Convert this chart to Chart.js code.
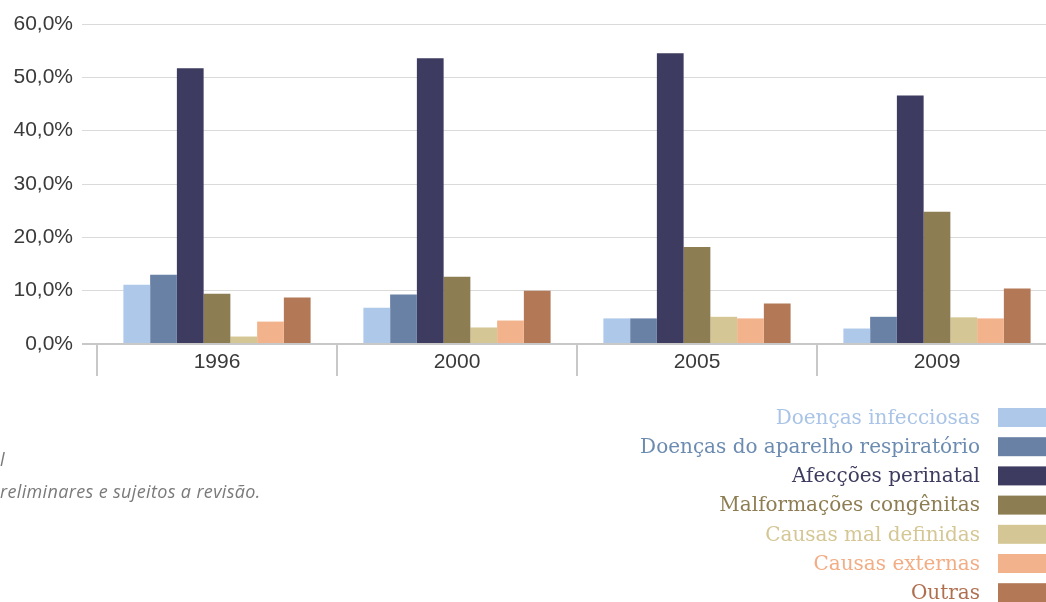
<!DOCTYPE html>
<html>
<head>
<meta charset="utf-8">
<script src="https://cdn.jsdelivr.net/npm/chart.js@4.4.1/dist/chart.umd.min.js"></script>
<style>
html,body{margin:0;padding:0;background:#fff;overflow:hidden;width:1046px;height:602px;}
#wrap{position:absolute;left:0;top:0;width:1060px;height:602px;}
</style>
</head>
<body>
<div id="wrap"><canvas id="c" width="1060" height="602"></canvas></div>
<script>
const categories = ['1996', '2000', '2005', '2009'];
const seriesNames = ['Doenças infecciosas', 'Doenças do aparelho respiratório', 'Afecções perinatal', 'Malformações congênitas', 'Causas mal definidas', 'Causas externas', 'Outras'];
const infecciosas = [11.1, 6.8, 4.8, 2.9];
const respiratorio = [13.0, 9.3, 4.8, 5.1];
const perinatal = [51.7, 53.6, 54.5, 46.6];
const malformacoes = [9.4, 12.6, 18.2, 24.8];
const malDefinidas = [1.4, 3.1, 5.1, 5.0];
const externas = [4.2, 4.4, 4.8, 4.8];
const outras = [8.7, 10.0, 7.6, 10.4];
const yTicks = [0, 10, 20, 30, 40, 50, 60];
const colors = ['#aec8e9', '#6881a5', '#3d3b5f', '#8d7d52', '#d4c795', '#f2b28b', '#b37855'];
const labelColors = ['#a9c4e6', '#6b8bb0', '#3d3b5f', '#8d7d52', '#d4c795', '#f2ad85', '#b07050'];
const noteLine1 = 'Fonte: MS/SVS – Sistema de Informações sobre Mortalidade, Brasil';
const noteLine2 = 'Dados preliminares e sujeitos a revisão.';

const seriesValues = [infecciosas, respiratorio, perinatal, malformacoes, malDefinidas, externas, outras];

const sideLegend = {
  id: 'sideLegend',
  afterDraw(chart) {
    const ctx = chart.ctx;
    ctx.save();
    ctx.textBaseline = 'middle';
    ctx.font = '20px "DejaVu Serif"';
    chart.data.datasets.forEach((ds, i) => {
      const cy = 417.5 + i * 29.2;
      ctx.fillStyle = ds.backgroundColor;
      ctx.fillRect(998, cy - 9.5, 60, 19);
      ctx.fillStyle = labelColors[i];
      ctx.textAlign = 'right';
      ctx.fillText(ds.label, 980, cy + 1);
    });
    ctx.font = 'italic 18px "Open Sans"';
    try { ctx.letterSpacing = '0.35px'; } catch (e) {}
    ctx.fillStyle = '#7a7a7a';
    ctx.textAlign = 'right';
    ctx.fillText(noteLine1, 5, 461);
    ctx.textAlign = 'left';
    const off = ctx.measureText('Dados p').width;
    ctx.fillText(noteLine2, -off, 493);
    ctx.restore();
  }
};

new Chart(document.getElementById('c'), {
  type: 'bar',
  data: {
    labels: categories,
    datasets: seriesValues.map((vals, i) => ({
      label: seriesNames[i],
      data: vals,
      backgroundColor: colors[i],
      borderWidth: 0,
      barPercentage: 1,
      categoryPercentage: 0.78
    }))
  },
  options: {
    responsive: false,
    animation: false,
    devicePixelRatio: 1,
    layout: { padding: { top: 24, right: 3, left: 0, bottom: 0 } },
    plugins: { legend: { display: false }, tooltip: { enabled: false } },
    scales: {
      x: {
        grid: {
          offset: true,
          drawOnChartArea: false,
          drawTicks: true,
          tickLength: 32,
          color: '#c8c8c8',
          lineWidth: 2
        },
        border: { display: false },
        ticks: {
          color: '#3a3a3a',
          font: { family: '"Liberation Sans", Arial, sans-serif', size: 21 },
          padding: -26
        },
        afterFit(scale) { scale.height = 258; }
      },
      y: {
        min: 0,
        max: 60,
        afterBuildTicks(scale) { scale.ticks = yTicks.map(v => ({ value: v })); },
        grid: {
          drawTicks: true,
          tickLength: 15,
          color: ctx => ctx.tick && ctx.tick.value === 0 ? '#c8c8c8' : '#dadada',
          lineWidth: ctx => ctx.tick && ctx.tick.value === 0 ? 2 : 1
        },
        border: { display: false },
        ticks: {
          color: '#3a3a3a',
          padding: 9,
          font: { family: '"Liberation Sans", Arial, sans-serif', size: 21 },
          callback: v => v.toFixed(1).replace('.', ',') + '%'
        },
        afterFit(scale) { scale.width = 97; }
      }
    }
  },
  plugins: [sideLegend]
});
</script>
</body>
</html>
